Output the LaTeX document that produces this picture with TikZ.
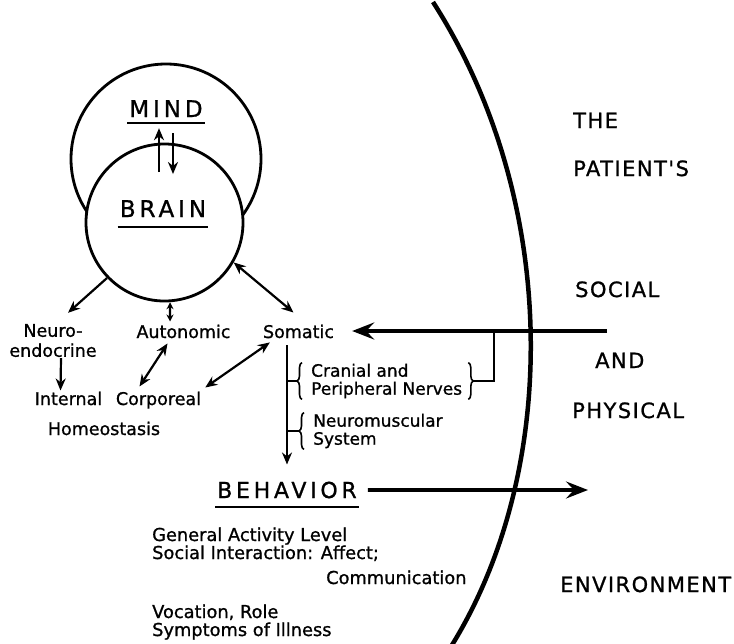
\documentclass[tikz,border=0pt]{standalone}
\usepackage{fontspec}
\setmainfont[FakeBold=1]{DejaVu Sans}
\newfontfamily\spacedfont[LetterSpace=17,FakeBold=1]{DejaVu Sans}
\newfontfamily\envfont[LetterSpace=7,FakeBold=1]{DejaVu Sans}
\usetikzlibrary{arrows.meta, decorations.pathreplacing}

\begin{document}
\begin{tikzpicture}[x=1pt, y=-1pt,
  smalltxt/.style={inner sep=1pt, font=\fontsize{17.5}{20}\selectfont},
  brtxt/.style={inner sep=1pt, align=left, font=\fontsize{17}{18}\selectfont},
  lowtxt/.style={inner sep=0pt, anchor=base west, font=\fontsize{17.8}{18}\selectfont},
  captxt/.style={inner sep=2pt, anchor=base, font=\spacedfont\fontsize{23}{26}\selectfont},
  envtxt/.style={inner sep=0pt, anchor=base west, font=\envfont\fontsize{21}{24}\selectfont},
  arr/.style={-{Stealth[length=12pt,width=10pt]}, line width=2.2pt},
  dbl/.style={{Stealth[length=12pt,width=10pt]}-{Stealth[length=12pt,width=10pt]}, line width=2.2pt},
  sdbl/.style={{Stealth[length=7pt,width=7pt]}-{Stealth[length=7pt,width=7pt]}, line width=2.2pt},
  bigarr/.style={-{Stealth[length=22pt,width=17pt,inset=8pt]}, line width=3.6pt},
  ring/.style={draw, circle, line width=2.8pt, inner sep=0pt},
  lbrace/.style={decorate, decoration={brace, amplitude=5pt}, line width=1.6pt},
  uline/.style={line width=2pt}
]
\useasboundingbox (0,0) rectangle (734,643);

% mind over brain
\node[ring, minimum size=190pt] (mindcirc) at (166,159) {};
\node[ring, fill=white, minimum size=157pt] (braincirc) at (164.5,222.5) {};
\node[captxt] (mind) at (166,117) {MIND};
\node[captxt] (brain) at (163,217) {BRAIN};
\draw[uline] ([yshift=-6pt]mind.base west) -- ([yshift=-6pt]mind.base east);
\draw[uline] ([yshift=-10pt]brain.base west) -- ([yshift=-10pt]brain.base east);
\draw[arr] ([xshift=-4pt,yshift=26pt]brain.north) -- ([xshift=-7pt,yshift=-9pt]mind.south);
\draw[arr] ([xshift=7pt,yshift=-14pt]mind.south) -- ([xshift=10pt,yshift=24pt]brain.north);

% branches
\node[smalltxt, align=center] (neuro) at (53,340.5) {Neuro-\\endocrine};
\node[smalltxt, anchor=base] (autonomic) at (183.5,338) {Autonomic};
\node[smalltxt, anchor=base] (somatic) at (298.5,338) {Somatic};
\node[smalltxt, anchor=base] (internal) at (68.5,405) {Internal};
\node[smalltxt, anchor=base] (corporeal) at (158.5,405) {Corporeal};
\node[smalltxt, anchor=base] (homeo) at (104,435) {Homeostasis};

\draw[arr] (braincirc.-136) -- ([xshift=15pt,yshift=10pt]neuro.north);
\draw[sdbl] (braincirc.-86) -- ([xshift=-13.5pt,yshift=2pt]autonomic.north);
\draw[dbl] (braincirc.-30) -- ([xshift=-5pt,yshift=11pt]somatic.north);
\draw[arr] ([xshift=8pt]neuro.south) -- ([xshift=-8pt]internal.north);
\draw[dbl] ([xshift=-16pt,yshift=-4pt]autonomic.south) -- ([xshift=-19pt,yshift=4pt]corporeal.north);
\draw[dbl] ([xshift=8pt,yshift=-3pt]somatic.south west) -- ([xshift=3pt,yshift=3pt]corporeal.north east);

% somatic pathway
\coordinate (stem) at ([xshift=-11.5pt,yshift=-6pt]somatic.south);
\node[brtxt, anchor=west] (cranial) at (310,381) {Cranial and\\Peripheral Nerves};
\node[brtxt, anchor=west] (neuromusc) at (312,431) {Neuromuscular\\System};
\node[captxt, font=\spacedfont\fontsize{22}{26}\selectfont] (behavior) at (287,498) {BEHAVIOR};
\draw[uline] ([yshift=-9pt]behavior.base west) -- ([yshift=-9pt]behavior.base east);
\draw[arr, shorten >=15pt] (stem) -- (stem |- behavior.north);
\draw[lbrace] ([xshift=-8pt]cranial.south west) -- ([xshift=-8pt]cranial.north west);
\draw[lbrace] ([xshift=-8pt]neuromusc.south west) -- ([xshift=-8pt]neuromusc.north west);
\draw[line width=2pt] (cranial.west -| stem) -- ([xshift=-13pt]cranial.west);
\draw[line width=2pt] (neuromusc.west -| stem) -- ([xshift=-13pt]neuromusc.west);
\draw[lbrace] ([xshift=5pt]cranial.north east) -- ([xshift=5pt]cranial.south east);

% environment
\coordinate (envin) at (607,331);
\coordinate (tap) at (494,331);
\coordinate (envout) at (588,490);
\draw[line width=2pt] ([xshift=10pt]cranial.east) -| (tap);
\draw[bigarr, shorten >=17pt] (envin) -- (somatic.east |- envin);
\draw[bigarr, shorten <=9pt] (behavior.east) -- (envout);
\draw[line width=4.5pt] (433,2) .. controls (560,200) and (560,470) .. (452,645);

\node[envtxt] (the) at (573,128) {THE};
\node[envtxt] (patients) at (573,176) {PATIENT'S};
\node[envtxt] (social) at (575,297) {SOCIAL};
\node[envtxt] (and) at (595,368) {AND};
\node[envtxt] (physical) at (572,418) {PHYSICAL};
\node[envtxt] (environment) at (560,592) {ENVIRONMENT};

% behavior items
\node[lowtxt] (activity) at (152,541) {General Activity Level};
\node[lowtxt] (interaction) at (152,559) {Social Interaction: Affect;};
\node[lowtxt] (communication) at (326,584) {Communication};
\node[lowtxt] (vocation) at (152,618) {Vocation, Role};
\node[lowtxt] (symptoms) at (152,636) {Symptoms of Illness};
\end{tikzpicture}
\end{document}
